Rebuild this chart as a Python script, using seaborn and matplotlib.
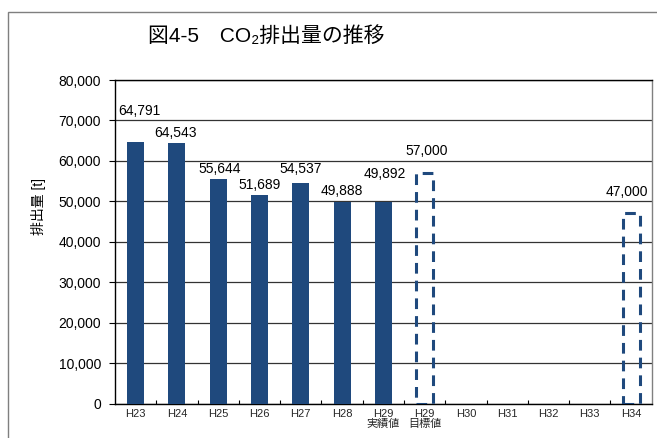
import matplotlib
matplotlib.use("Agg")
import matplotlib.pyplot as plt
import matplotlib.patches as mpatches
from matplotlib.ticker import FuncFormatter, MultipleLocator
import seaborn as sns
import pandas as pd

# data
categories = ["H23", "H24", "H25", "H26", "H27", "H28", "H29\n実績値",
              "H29\n目標値", "H30", "H31", "H32", "H33", "H34"]
emissions = [64791, 64543, 55644, 51689, 54537, 49888, 49892,
             57000, None, None, None, None, 47000]
is_target = [False] * 7 + [True] * 6

# hand placed label nudges (px) as in the original sheet
label_dx = [4, -1, 1, 0, 0, 0, 1, 2, 0, 0, 0, 0, -4]
label_dy = [31, 10, 10, 10, 14, 11, 28, 22, 0, 0, 0, 0, 21]

navy = "#1F497D"

sns.set_theme(style="white")
plt.rcParams["font.family"] = ["Liberation Sans", "Noto Sans CJK JP", "DejaVu Sans"]

df = pd.DataFrame({"year": categories, "value": emissions, "target": is_target})

fig = plt.figure(figsize=(6.57, 4.38), dpi=100)
ax = fig.add_axes([0.175, 0.0787, 0.817, 0.7386])

sns.barplot(data=df, x="year", y="value", order=categories, color=navy,
            width=0.41, saturation=1, ax=ax, zorder=3)

# target bars: outline only, dashed
for patch, tgt in zip(ax.patches, is_target):
    if tgt:
        patch.set_facecolor("none")
        patch.set_edgecolor(navy)
        patch.set_linewidth(2.2)
        patch.set_linestyle((0, (3.5, 2.3)))
    else:
        patch.set_edgecolor("none")

for i, (v, dx, dy) in enumerate(zip(emissions, label_dx, label_dy)):
    if v is None:
        continue
    ax.annotate(f"{v:,}", (i, v), xytext=(dx * 0.72, dy * 0.72),
                textcoords="offset points", ha="center", va="center",
                fontsize=10, color="black", zorder=5)

ax.set_ylim(0, 80000)
ax.set_xlim(-0.5, len(categories) - 0.5)
ax.yaxis.set_major_locator(MultipleLocator(10000))
ax.yaxis.set_major_formatter(FuncFormatter(lambda v, p: f"{int(v):,}"))
ax.grid(axis="y", color="#333333", linewidth=0.9, zorder=0)
ax.set_axisbelow(True)

ax.set_xlabel("")
ax.set_ylabel("排出量 [t]", fontsize=10, color="black")
ax.yaxis.set_label_coords(-0.128, 0.61)

ax.tick_params(axis="y", which="major", left=True, length=4, width=0.8,
               direction="out", labelsize=10, colors="black", pad=6)
ax.tick_params(axis="x", which="major", length=0, labelsize=8, pad=4)
ax.set_xticks(range(len(categories)))
ax.set_xticklabels(categories, linespacing=1.0, va="top")
ax.set_xticks([i + 0.5 for i in range(len(categories) - 1)], minor=True)
ax.tick_params(axis="x", which="minor", bottom=True, length=3, width=0.8,
               direction="in", color="black")

for side in ["left", "bottom", "top"]:
    ax.spines[side].set_color("black")
    ax.spines[side].set_linewidth(1.0)
ax.spines["right"].set_color("#808080")
ax.spines["right"].set_linewidth(1.0)

fig.text(0.406, 0.918, "図4-5　CO₂排出量の推移", ha="center", va="center",
         fontsize=15, color="black")

# outer chart frame
fig.patches.append(mpatches.Rectangle((7.5 / 657, -0.05), 1.2, 1.05 - 12.5 / 438,
                                      transform=fig.transFigure, fill=False,
                                      edgecolor="#7f7f7f", linewidth=1.0))

fig.savefig("out.png", dpi=100)
